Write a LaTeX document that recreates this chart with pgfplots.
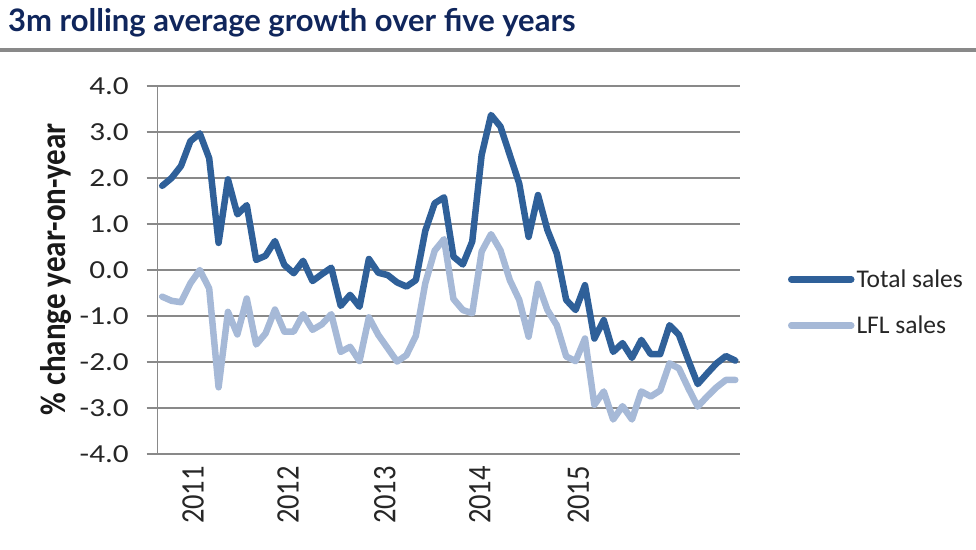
\documentclass[border=0pt]{standalone}
\usepackage{fontspec}
\setmainfont{Carlito}
\newfontfamily\tickfont{Carlito}[FakeStretch=1.2]
\newfontfamily\titlefont{Lato}
\usepackage{pgfplots}
\pgfplotsset{compat=1.18}
\definecolor{totalc}{RGB}{47,96,153}
\definecolor{lflc}{RGB}{166,185,215}
\definecolor{gridc}{RGB}{137,137,137}
\definecolor{titlec}{RGB}{16,38,92}
\begin{document}
\begin{tikzpicture}
\path[use as bounding box] (0pt,0pt) rectangle (976pt,549pt);
\node[anchor=base west, inner sep=0pt, font=\titlefont\bfseries\fontsize{31}{34}\selectfont, text=titlec] at (8pt,517pt) {3m rolling average growth over five years};
\draw[gridc, line width=4pt] (0pt,498.7pt) -- (976pt,498.7pt);
\begin{axis}[
  at={(157.5pt,95pt)}, anchor=south west,
  scale only axis, width=582.5pt, height=368pt,
  xmin=-0.5, xmax=61.5, ymin=-4, ymax=4,
  axis x line*=bottom, axis y line*=left,
  axis line style={gridc, line width=1.3pt},
  ytick={-4,-3,...,4},
  ymajorgrids, major grid style={gridc, line width=1.3pt},
  ytick align=outside, major tick length=11pt,
  ytick style={gridc, line width=1.3pt},
  xtick={3.3,13.4,23.7,33.8,44.3},
  xticklabels={2011,2012,2013,2014,2015},
  xtick align=inside, xtick style={draw=none},
  xticklabel style={rotate=90, yscale=1.15, anchor=east, inner sep=0pt, font=\fontsize{28.5}{30}\selectfont},
  xticklabel shift=12pt,
  yticklabel style={inner sep=0pt, font=\tickfont\fontsize{26}{28}\selectfont, /pgf/number format/.cd, fixed, fixed zerofill, precision=1, assume math mode=true},
  yticklabel shift=17.5pt,
  tick label style={text=black!85},
  ylabel={\% change year-on-year},
  ylabel style={at={(axis description cs:-0.175,0.502)}, anchor=center, yscale=1.15, font=\bfseries\fontsize{31}{34}\selectfont, text=black!90},
  legend cell align=left,
  legend image code/.code={\draw[#1, line width=6.5pt] (0pt,0pt) -- (60pt,0pt);},
  legend style={at={(1.0824,0.412)}, anchor=west, draw=none, fill=none, inner sep=0pt, outer sep=0pt, row sep=23pt, font=\fontsize{25.5}{27}\selectfont, text=black!85, /tikz/every even column/.append style={column sep=8pt}},
  every axis plot/.append style={line width=6.5pt, line join=round, line cap=round},
]
\addplot[totalc] table {
x y
0 1.83
1 2.00
2 2.26
3 2.80
4 2.97
5 2.43
6 0.59
7 1.97
8 1.21
9 1.41
10 0.22
11 0.31
12 0.63
13 0.11
14 -0.07
15 0.20
16 -0.24
17 -0.09
18 0.05
19 -0.78
20 -0.54
21 -0.80
22 0.24
23 -0.06
24 -0.11
25 -0.27
26 -0.36
27 -0.22
28 0.85
29 1.45
30 1.58
31 0.29
32 0.12
33 0.62
34 2.50
35 3.37
36 3.12
37 2.50
38 1.88
39 0.72
40 1.63
41 0.87
42 0.36
43 -0.65
44 -0.87
45 -0.33
46 -1.49
47 -1.09
48 -1.78
49 -1.59
50 -1.91
51 -1.52
52 -1.83
53 -1.83
54 -1.20
55 -1.41
56 -1.96
57 -2.48
58 -2.25
59 -2.03
60 -1.87
61 -1.97
};
\addlegendentry{Total sales}
\addplot[lflc] table {
x y
0 -0.58
1 -0.67
2 -0.70
3 -0.29
4 0.00
5 -0.40
6 -2.55
7 -0.91
8 -1.40
9 -0.62
10 -1.62
11 -1.38
12 -0.86
13 -1.34
14 -1.34
15 -0.96
16 -1.30
17 -1.18
18 -0.96
19 -1.78
20 -1.67
21 -1.98
22 -1.03
23 -1.41
24 -1.70
25 -1.99
26 -1.85
27 -1.43
28 -0.29
29 0.42
30 0.67
31 -0.63
32 -0.87
33 -0.94
34 0.40
35 0.78
36 0.43
37 -0.22
38 -0.65
39 -1.45
40 -0.30
41 -0.87
42 -1.20
43 -1.88
44 -1.98
45 -1.49
46 -2.93
47 -2.64
48 -3.25
49 -2.96
50 -3.25
51 -2.64
52 -2.75
53 -2.62
54 -2.03
55 -2.14
56 -2.57
57 -2.97
58 -2.75
59 -2.55
60 -2.39
61 -2.39
};
\addlegendentry{LFL sales}
\end{axis}
\end{tikzpicture}
\end{document}
